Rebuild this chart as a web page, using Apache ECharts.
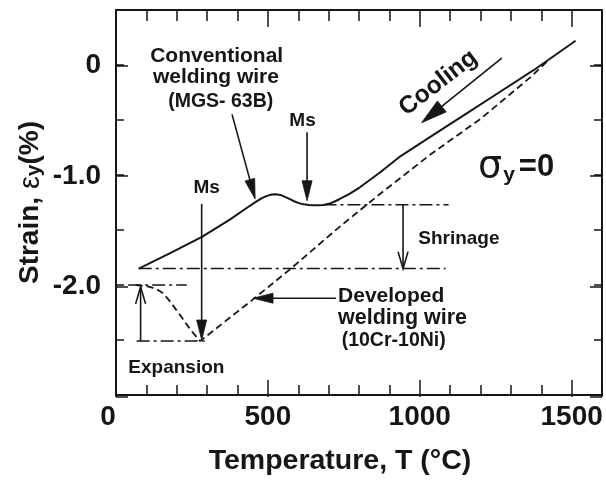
<!DOCTYPE html>
<html><head><meta charset="utf-8">
<script src="https://cdn.jsdelivr.net/npm/echarts@6/dist/echarts.min.js"></script>
<style>html,body{margin:0;padding:0;background:#fff}#c{width:606px;height:481px}</style>
</head><body><div id="c"></div>
<script>
// ---------------- data ----------------
const conventionalT      = [75, 180, 283, 376, 430, 464, 482, 497, 513, 530, 545, 560, 574, 590, 605, 618, 635, 650, 668, 683, 700, 718, 737, 770, 803, 870, 936, 1046, 1156, 1266, 1376, 1513];
const conventionalStrain = [-1.851, -1.708, -1.563, -1.403, -1.30, -1.237, -1.208, -1.19, -1.178, -1.176, -1.185, -1.204, -1.222, -1.243, -1.258, -1.266, -1.273, -1.276, -1.276, -1.272, -1.262, -1.243, -1.218, -1.17, -1.112, -0.975, -0.83, -0.633, -0.437, -0.241, -0.045, 0.22];

const developedT      = [65, 112, 135, 156, 175, 194, 214, 233, 255, 277, 447, 574, 733, 870, 1035, 1200, 1365, 1420];
const developedStrain = [-2.0, -2.017, -2.04, -2.077, -2.14, -2.21, -2.285, -2.36, -2.44, -2.51, -2.14, -1.855, -1.478, -1.17, -0.814, -0.49, -0.11, 0.035];

// dash-dot reference levels
const refLevel = [-1.27, -1.851, -2.0, -2.51];
const refFromT = [683, 75, 40, 68];
const refToT   = [1095, 1085, 233, 303];

// annotation arrows (tail -> tip), data units
const arrowFromT = [382, 629, 282, 724, 1270, 945, 81];
const arrowFromS = [-0.449, -0.612, -1.263, -2.12, 0.063, -1.27, -2.51];
const arrowToT   = [458, 629, 282, 451, 1006, 945, 81];
const arrowToS   = [-1.218, -1.234, -2.50, -2.12, -0.525, -1.851, -2.017];
const arrowKind  = ['filled', 'filled', 'filled', 'filled', 'big', 'open', 'open'];

// annotation texts and their anchors (data units)
const noteText = ['Conventional', 'welding wire', '(MGS- 63B)', 'Ms', 'Ms', 'Shrinage',
                  'Developed', 'welding wire', '(10Cr-10Ni)', 'Expansion', 'Cooling', '{s|σ}{y|y}{e|=0}'];
const noteT = [331.5, 329, 344.7, 298.6, 614, 995, 731, 731, 743, 40.5, 1061, 1192];
const noteS = [0.084, -0.115, -0.332, -1.112, -0.51, -1.58, -2.098, -2.303, -2.505, -2.749, -0.163, -0.929];

// axis tick labels
const xTickValues = [0, 500, 1000, 1500];
const xTickLabels = ['0', '500', '1000', '1500'];
const yTickValues = [0, -1, -2];
const yTickLabels = ['0', '-1.0', '-2.0'];

// ---------------- styling ----------------
const INK = '#161616';
const FONT = '"Liberation Sans", Arial, Helvetica, sans-serif';
const noteStyle = [
  {size: 21, align: 'center'}, {size: 21, align: 'center'}, {size: 19.5, align: 'center'},
  {size: 19, align: 'center'}, {size: 19, align: 'center'}, {size: 19, align: 'left'},
  {size: 21, align: 'left'}, {size: 21.5, align: 'left'}, {size: 19.5, align: 'left'},
  {size: 19, align: 'left'}, {size: 24.5, align: 'center', rot: 37.7}, {size: 30, align: 'left', rich: true}
];
const headStyle = {
  filled: {len: 20, half: 5, open: false},
  big: {len: 26, half: 7, open: false},
  open: {len: 17, half: 5, open: true}
};

const chart = echarts.init(document.getElementById('c'), null, {renderer: 'canvas'});

function xLabel(v) {
  const i = xTickValues.indexOf(v);
  if (i < 0) return '';
  return i === 0 ? '{z|' + xTickLabels[i] + '}' : xTickLabels[i];
}
function yLabel(v) { const i = yTickValues.findIndex(t => Math.abs(t - v) < 1e-9); return i >= 0 ? yTickLabels[i] : ''; }

function renderArrow(params, api) {
  const a = api.coord([api.value(0), api.value(1)]);
  const b = api.coord([api.value(2), api.value(3)]);
  const hs = headStyle[arrowKind[params.dataIndex]];
  const dx = b[0] - a[0], dy = b[1] - a[1];
  const L = Math.hypot(dx, dy) || 1;
  const ux = dx / L, uy = dy / L, px = -uy, py = ux;
  const base = [b[0] - ux * hs.len, b[1] - uy * hs.len];
  const p1 = [base[0] + px * hs.half, base[1] + py * hs.half];
  const p2 = [base[0] - px * hs.half, base[1] - py * hs.half];
  const children = [];
  const end = hs.open ? b : [b[0] - ux * hs.len * 0.6, b[1] - uy * hs.len * 0.6];
  children.push({type: 'line', shape: {x1: a[0], y1: a[1], x2: end[0], y2: end[1]},
                 style: {stroke: INK, lineWidth: 1.6}});
  if (hs.open) {
    children.push({type: 'polyline', shape: {points: [p1, b, p2]},
                   style: {stroke: INK, lineWidth: 1.6, fill: null}});
  } else {
    children.push({type: 'polygon', shape: {points: [b, p1, base, p2]},
                   style: {fill: INK, stroke: INK, lineWidth: 0.8}});
  }
  return {type: 'group', children};
}

function renderNote(params, api) {
  const p = api.coord([api.value(0), api.value(1)]);
  const st = noteStyle[params.dataIndex];
  const style = {
    text: noteText[params.dataIndex], fill: INK,
    fontSize: st.size, fontWeight: 'bold', fontFamily: FONT,
    align: st.align, verticalAlign: 'middle'
  };
  if (st.rich) {
    style.rich = {
      s: {fontSize: 38, fontWeight: 'normal', fontFamily: '"DejaVu Sans", sans-serif', fill: INK},
      y: {fontSize: 21, fontWeight: 'bold', fontFamily: FONT, fill: INK, verticalAlign: 'bottom', padding: [16, 4, 0, 1]},
      e: {fontSize: 31, fontWeight: 'bold', fontFamily: FONT, fill: INK}
    };
  }
  return {type: 'text', x: p[0], y: p[1], rotation: (st.rot || 0) * Math.PI / 180, style};
}

const axisLineStyle = {color: INK, width: 2};
const tickStyle = {color: INK, width: 1.5};
function xAx(grid, pos, interval, len, extra) {
  return Object.assign({
    type: 'value', gridIndex: grid, position: pos, min: 0, max: 1600, interval,
    axisLine: {show: grid === 0, onZero: false, lineStyle: axisLineStyle},
    axisTick: {show: true, inside: true, length: len, lineStyle: tickStyle},
    axisLabel: {show: false}, splitLine: {show: false}
  }, extra || {});
}
function yAx(grid, pos, interval, len, extra) {
  return Object.assign({
    type: 'value', gridIndex: grid, position: pos, min: -3, max: 0.5, interval,
    axisLine: {show: grid === 0, onZero: false, lineStyle: axisLineStyle},
    axisTick: {show: true, inside: true, length: len, lineStyle: tickStyle},
    axisLabel: {show: false}, splitLine: {show: false}
  }, extra || {});
}

const gridBox = {left: 116, right: 4, top: 10, bottom: 84, containLabel: false};

const option = {
  backgroundColor: '#ffffff',
  animation: false,
  grid: [Object.assign({}, gridBox), Object.assign({}, gridBox)],
  xAxis: [
    xAx(0, 'bottom', 100, 10, {
      name: 'Temperature, T (°C)', nameLocation: 'middle', nameGap: 52,
      nameTextStyle: {fontSize: 28.5, fontWeight: 'bold', color: INK, fontFamily: FONT, padding: [0, 38, 0, 0]}
    }),
    xAx(0, 'top', 100, 11),
    xAx(1, 'bottom', 500, 17, {
      axisLabel: {show: true, margin: 6, fontSize: 28, fontWeight: 'bold', color: INK, fontFamily: FONT,
                  formatter: xLabel, showMaxLabel: true, showMinLabel: true,
                  rich: {z: {fontSize: 28, fontWeight: 'bold', color: INK, fontFamily: FONT, padding: [0, 16, 0, 0]}}}
    }),
    xAx(1, 'top', 500, 17)
  ],
  yAxis: [
    yAx(0, 'left', 0.5, 8, {
      name: 'Strain, {eps|ε}{sub|y}(%)', nameLocation: 'middle', nameGap: 71, nameRotate: 90,
      nameTextStyle: {fontSize: 28, fontWeight: 'bold', color: INK, fontFamily: FONT,
        rich: {
          eps: {fontSize: 29, fontWeight: 'normal', color: INK, fontFamily: FONT},
          sub: {fontSize: 21, fontWeight: 'bold', color: INK, fontFamily: FONT, verticalAlign: 'bottom'}
        }}
    }),
    yAx(0, 'right', 0.5, 8),
    yAx(1, 'left', 1, 12, {
      axisLabel: {show: true, margin: 15, fontSize: 28, fontWeight: 'bold', color: INK, fontFamily: FONT,
                  formatter: yLabel, showMaxLabel: true, showMinLabel: true}
    }),
    yAx(1, 'right', 1, 12)
  ],
  series: [
    {
      name: 'Conventional welding wire (MGS-63B)', type: 'line', xAxisIndex: 0, yAxisIndex: 0,
      data: conventionalT.map((t, i) => [t, conventionalStrain[i]]),
      showSymbol: false, symbol: 'none', smooth: false,
      lineStyle: {color: INK, width: 2, join: 'round'}, z: 5
    },
    {
      name: 'Developed welding wire (10Cr-10Ni)', type: 'line', xAxisIndex: 0, yAxisIndex: 0,
      data: developedT.map((t, i) => [t, developedStrain[i]]),
      showSymbol: false, symbol: 'none', smooth: false,
      lineStyle: {color: INK, width: 1.8, type: [7, 4]}, z: 4
    },
  ].concat(refLevel.map((lv, i) => ({
      name: 'ref' + i, type: 'line', xAxisIndex: 0, yAxisIndex: 0,
      data: [[refFromT[i], lv], [refToT[i], lv]],
      showSymbol: false, symbol: 'none',
      lineStyle: {color: INK, width: 1.5, type: [13, 4, 3, 4]}, z: 3
  }))).concat([
    {
      name: 'arrows', type: 'custom', xAxisIndex: 0, yAxisIndex: 0,
      data: arrowFromT.map((t, i) => [t, arrowFromS[i], arrowToT[i], arrowToS[i]]),
      encode: {x: [0, 2], y: [1, 3]},
      renderItem: renderArrow, clip: false, z: 6
    },
    {
      name: 'notes', type: 'custom', xAxisIndex: 0, yAxisIndex: 0,
      data: noteT.map((t, i) => [t, noteS[i]]),
      encode: {x: 0, y: 1},
      renderItem: renderNote, clip: false, z: 7
    }
  ])
};
chart.setOption(option);
</script>
</body></html>
